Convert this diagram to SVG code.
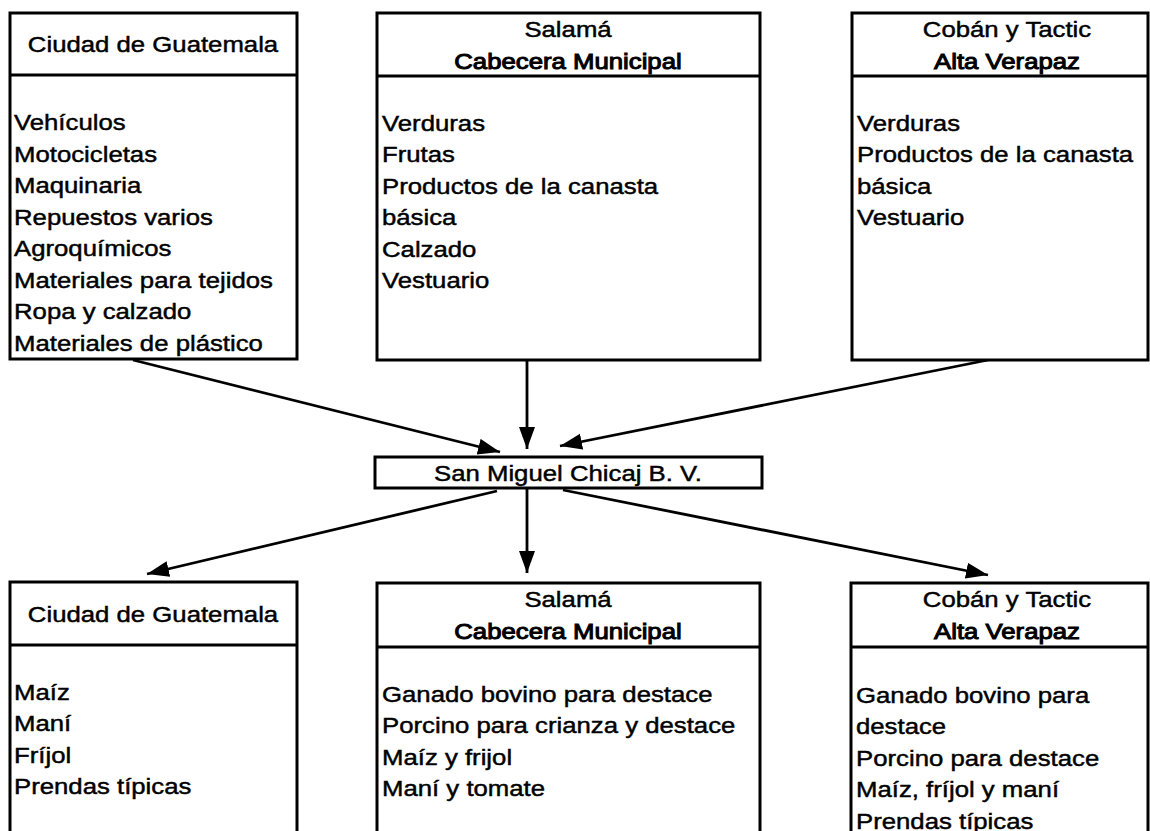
<svg xmlns="http://www.w3.org/2000/svg" width="1150" height="831" viewBox="0 0 1150 831">
<style>
.box{fill:#fff;stroke:#000;stroke-width:3}
.div{stroke:#000;stroke-width:3}
text{font-family:"Liberation Sans",Arial,sans-serif;font-size:22px;fill:#000;stroke:#000;stroke-width:0.45}
.c{text-anchor:middle}
.b{stroke-width:1}
.con{stroke:#000;stroke-width:2.8;fill:none;marker-end:url(#ah)}
</style>
<defs>
<marker id="ah" markerUnits="userSpaceOnUse" markerWidth="24" markerHeight="18" refX="22" refY="8" orient="auto">
<path d="M0,0 L22,8 L0,16 z" fill="#000"/>
</marker>
</defs>
<rect width="1150" height="831" fill="#fff"/>

<g id="connectors">
<line class="con" x1="133" y1="360" x2="500" y2="452"/>
<line class="con" x1="527" y1="360" x2="527" y2="449"/>
<line class="con" x1="988" y1="360" x2="560" y2="446"/>
<line class="con" x1="497" y1="491" x2="147" y2="574"/>
<line class="con" x1="527" y1="489" x2="527" y2="573"/>
<line class="con" x1="563" y1="490" x2="988" y2="575"/>
</g>

<g id="top-guatemala">
<rect class="box" x="10" y="13" width="287" height="346"/>
<line class="div" x1="10" y1="75" x2="297" y2="75"/>
<g transform="translate(153 0) scale(1.17 1)"><text class="c" x="0" y="52">Ciudad de Guatemala</text></g>
<g transform="translate(14 0) scale(1.17 1)">
<text x="0" y="130.5">Vehículos</text>
<text x="0" y="162">Motocicletas</text>
<text x="0" y="193.5">Maquinaria</text>
<text x="0" y="225">Repuestos varios</text>
<text x="0" y="256.5">Agroquímicos</text>
<text x="0" y="288">Materiales para tejidos</text>
<text x="0" y="319.5">Ropa y calzado</text>
<text x="0" y="351">Materiales de plástico</text>
</g>
</g>

<g id="top-salama">
<rect class="box" x="377" y="13" width="383" height="347"/>
<line class="div" x1="377" y1="76" x2="760" y2="76"/>
<g transform="translate(568 0) scale(1.17 1)">
<text class="c" x="0" y="37">Salamá</text>
<text class="c b" x="0" y="69">Cabecera Municipal</text>
</g>
<g transform="translate(382 0) scale(1.17 1)">
<text x="0" y="131">Verduras</text>
<text x="0" y="162.5">Frutas</text>
<text x="0" y="194">Productos de la canasta</text>
<text x="0" y="225.5">básica</text>
<text x="0" y="257">Calzado</text>
<text x="0" y="288.5">Vestuario</text>
</g>
</g>

<g id="top-coban">
<rect class="box" x="852" y="13" width="296" height="347"/>
<line class="div" x1="852" y1="76" x2="1148" y2="76"/>
<g transform="translate(1007 0) scale(1.17 1)">
<text class="c" x="0" y="37">Cobán y Tactic</text>
<text class="c b" x="0" y="69">Alta Verapaz</text>
</g>
<g transform="translate(857 0) scale(1.17 1)">
<text x="0" y="131">Verduras</text>
<text x="0" y="162.5">Productos de la canasta</text>
<text x="0" y="194">básica</text>
<text x="0" y="225.5">Vestuario</text>
</g>
</g>

<g id="center">
<rect class="box" x="375" y="457" width="387" height="31"/>
<g transform="translate(568 0) scale(1.17 1)"><text class="c" x="0" y="481">San Miguel Chicaj B. V.</text></g>
</g>

<g id="bottom-guatemala">
<rect class="box" x="10" y="582" width="287" height="260"/>
<line class="div" x1="10" y1="645" x2="297" y2="645"/>
<g transform="translate(153 0) scale(1.17 1)"><text class="c" x="0" y="622">Ciudad de Guatemala</text></g>
<g transform="translate(14 0) scale(1.17 1)">
<text x="0" y="700">Maíz</text>
<text x="0" y="731.5">Maní</text>
<text x="0" y="763">Fríjol</text>
<text x="0" y="794.5">Prendas típicas</text>
</g>
</g>

<g id="bottom-salama">
<rect class="box" x="377" y="583" width="383" height="260"/>
<line class="div" x1="377" y1="647" x2="760" y2="647"/>
<g transform="translate(568 0) scale(1.17 1)">
<text class="c" x="0" y="607">Salamá</text>
<text class="c b" x="0" y="639">Cabecera Municipal</text>
</g>
<g transform="translate(382 0) scale(1.17 1)">
<text x="0" y="702">Ganado bovino para destace</text>
<text x="0" y="733.5">Porcino para crianza y destace</text>
<text x="0" y="765">Maíz y frijol</text>
<text x="0" y="796.5">Maní y tomate</text>
</g>
</g>

<g id="bottom-coban">
<rect class="box" x="851" y="583" width="297" height="260"/>
<line class="div" x1="851" y1="647" x2="1148" y2="647"/>
<g transform="translate(1007 0) scale(1.17 1)">
<text class="c" x="0" y="607">Cobán y Tactic</text>
<text class="c b" x="0" y="639">Alta Verapaz</text>
</g>
<g transform="translate(856 0) scale(1.17 1)">
<text x="0" y="703">Ganado bovino para</text>
<text x="0" y="734.5">destace</text>
<text x="0" y="766">Porcino para destace</text>
<text x="0" y="797.5">Maíz, fríjol y maní</text>
<text x="0" y="829">Prendas típicas</text>
</g>
</g>
</svg>
